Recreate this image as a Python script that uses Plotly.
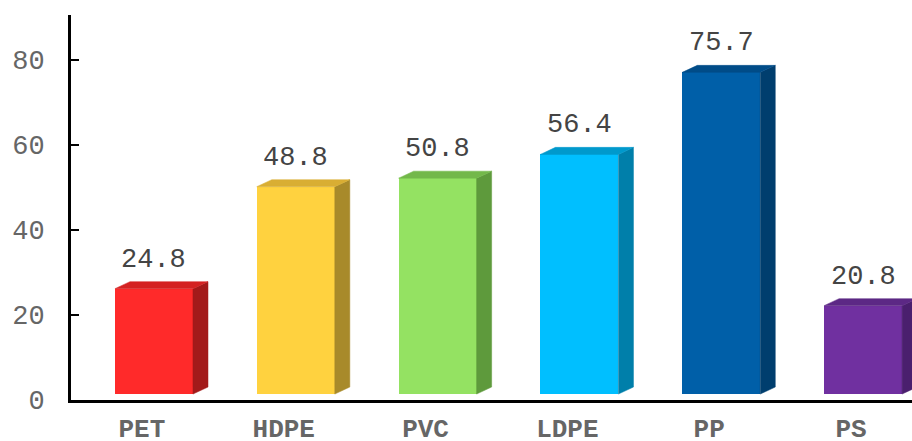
import plotly.graph_objects as go

categories = ["PET", "HDPE", "PVC", "LDPE", "PP", "PS"]
values = [24.8, 48.8, 50.8, 56.4, 75.7, 20.8]
front_colors = ["#FF2A2A", "#FFD23F", "#94E262", "#00BFFF", "#005FA8", "#7030A0"]
top_colors = ["#D42222", "#D9AE33", "#73B84A", "#0099CC", "#004C88", "#5C2885"]
side_colors = ["#A31A1A", "#A88A2A", "#5E9A3C", "#007FAA", "#003E6E", "#4A1F6E"]
y_ticks = [0, 20, 40, 60, 80]

FONT = "Courier New, Liberation Mono, monospace"
base = 1.4      # lift of the front face (3D floor)
off = -0.19     # bar offset from category centre
w = 0.55        # front face width
dx = 0.106      # depth in x (category units)
dy = 1.65       # depth in y (value units)

xs = list(range(len(categories)))
fig = go.Figure()
fig.add_trace(go.Bar(
    x=xs, y=values, base=[base] * len(values), width=w, offset=off,
    marker=dict(color=front_colors, line=dict(width=0)),
    hoverinfo="skip", showlegend=False,
))
for i, v in enumerate(values):
    x0 = i + off
    x1 = x0 + w
    top = base + v
    fig.add_trace(go.Scatter(
        x=[x1, x1 + dx, x1 + dx, x1, x1], y=[base, base + dy, top + dy, top, base],
        fill="toself", fillcolor=side_colors[i], mode="lines",
        line=dict(width=0.5, color=side_colors[i]), hoverinfo="skip", showlegend=False))
    fig.add_trace(go.Scatter(
        x=[x0, x0 + dx, x1 + dx, x1, x0], y=[top, top + dy, top + dy, top, top],
        fill="toself", fillcolor=top_colors[i], mode="lines",
        line=dict(width=0.5, color=top_colors[i]), hoverinfo="skip", showlegend=False))
    fig.add_annotation(x=i + off + w / 2, y=top + dy, text=f"{v:.1f}", showarrow=False,
                       yanchor="bottom", yshift=5,
                       font=dict(family=FONT, size=27, color="#444444"))

fig.update_layout(
    width=912, height=441,
    margin=dict(l=71, r=0, t=15, b=41, autoexpand=False),
    plot_bgcolor="white", paper_bgcolor="white",
    bargap=0,
    xaxis=dict(range=[-0.5, 5.43], tickmode="array", tickvals=xs, ticktext=categories,
               showline=True, linecolor="black", linewidth=3, showgrid=False, zeroline=False,
               ticks="", ticklabelstandoff=3, automargin=False,
               tickfont=dict(family=FONT, size=26, color="#666666", weight="bold")),
    yaxis=dict(range=[0, 90.6], tickmode="array", tickvals=y_ticks,
               showline=True, linecolor="black", linewidth=3, showgrid=False, zeroline=False,
               ticks="inside", ticklen=8, tickwidth=2, tickcolor="black",
               ticklabelstandoff=18, automargin=False,
               tickfont=dict(family=FONT, size=27, color="#666666")),
)
fig.write_html("out.html", config={"displayModeBar": False},
               post_script="document.body.style.margin='0';document.body.style.overflow='hidden';")
